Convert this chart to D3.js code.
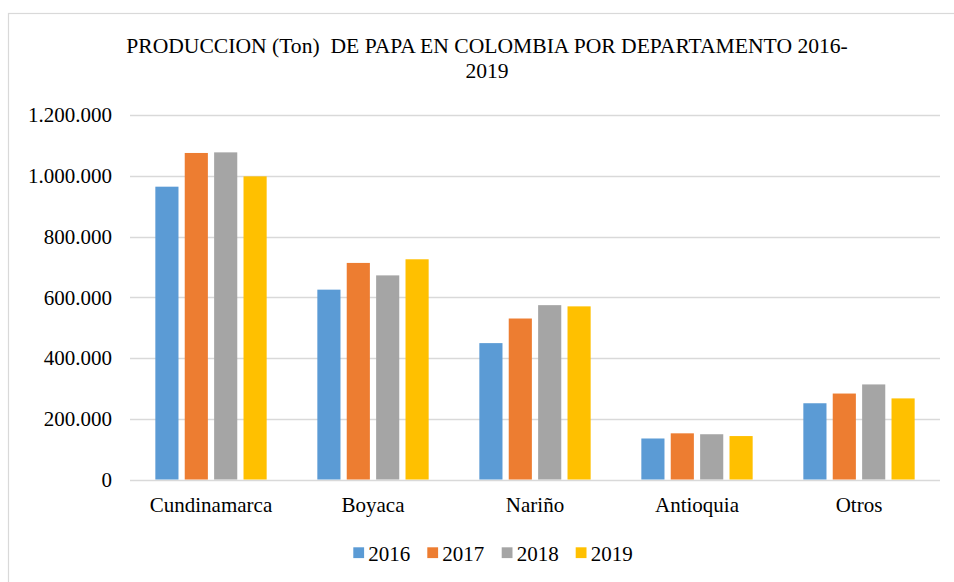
<!DOCTYPE html>
<html><head><meta charset="utf-8">
<script src="https://cdn.jsdelivr.net/npm/d3@7/dist/d3.min.js"></script>
<style>
html,body{margin:0;padding:0;background:#fff;}
svg{display:block;}
text{font-family:"Liberation Serif","Times New Roman",serif;fill:#000;}
</style></head>
<body>
<svg id="chart" width="954" height="582"></svg>
<script>
const titleLines = ["PRODUCCION (Ton)  DE PAPA EN COLOMBIA POR DEPARTAMENTO 2016-", "2019"];
const categories = ["Cundinamarca", "Boyaca", "Nariño", "Antioquia", "Otros"];
const years = ["2016", "2017", "2018", "2019"];
const v2016 = [964000, 625000, 449000, 135000, 251000];
const v2017 = [1075000, 713000, 530000, 152000, 283000];
const v2018 = [1077000, 672000, 574000, 149000, 313000];
const v2019 = [998000, 725000, 570000, 143000, 267000];
const yTicks = [0, 200000, 400000, 600000, 800000, 1000000, 1200000];
const colors = ["#5B9BD5", "#ED7D31", "#A5A5A5", "#FFC000"];

const series = [v2016, v2017, v2018, v2019];
const svg = d3.select("#chart");

// chart border
svg.append("rect").attr("x", 8.5).attr("y", 13.5).attr("width", 960).attr("height", 600)
  .attr("fill", "#fff").attr("stroke", "#D9D9D9").attr("stroke-width", 1.2);

const pLeft = 130, pRight = 940, pTop = 115, pBottom = 479.5;
const FS = 21;

const y = d3.scaleLinear().domain([0, 1200000]).range([pBottom, pTop]);
const x0 = d3.scaleBand().domain(categories).range([pLeft, pRight]).padding(0);
const bw = x0.bandwidth();
const w = bw / 7.0;
const groupW = 4 * w + 3 * 0.27 * w;
const x1 = d3.scaleBand().domain(years).range([0, groupW]).paddingInner(0.27 / 1.27).paddingOuter(0);

const fmt = v => d3.format(",")(v).replace(/,/g, ".");

// gridlines
svg.append("g").selectAll("line").data(yTicks).join("line")
  .attr("x1", pLeft).attr("x2", pRight)
  .attr("y1", d => Math.round(y(d)) + 0.5).attr("y2", d => Math.round(y(d)) + 0.5)
  .attr("stroke", "#D9D9D9").attr("stroke-width", 1.5);

// y axis labels
const yAxis = d3.axisLeft(y).tickValues(yTicks).tickFormat(fmt).tickSize(0).tickPadding(0);
const ya = svg.append("g").attr("transform", `translate(112,0)`).call(yAxis);
ya.select(".domain").remove();
ya.attr("font-family", null).attr("font-size", null);
ya.selectAll("text").attr("font-size", FS).attr("fill", "#000").attr("dy", "0.33em");

// bars
const groups = svg.append("g").selectAll("g").data(categories).join("g")
  .attr("transform", c => `translate(${x0(c) + (bw - groupW) / 2},0)`);
groups.selectAll("rect").data((c, i) => years.map((yr, j) => ({yr, v: series[j][i], j})))
  .join("rect")
  .attr("x", d => x1(d.yr)).attr("width", x1.bandwidth())
  .attr("y", d => y(d.v)).attr("height", d => pBottom - y(d.v))
  .attr("fill", d => colors[d.j]);

// x axis labels
const xAxis = d3.axisBottom(x0).tickSize(0).tickPadding(0);
const xa = svg.append("g").attr("transform", `translate(0,511.5)`).call(xAxis);
xa.select(".domain").remove();
xa.attr("font-family", null).attr("font-size", null);
xa.selectAll("text").attr("font-size", FS).attr("fill", "#000").attr("y", 0).attr("dy", 0);

// title
svg.append("g").selectAll("text").data(titleLines).join("text")
  .attr("x", 487).attr("y", (d, i) => 53.3 + i * 25)
  .attr("text-anchor", "middle").attr("font-size", 21.6)
  .style("white-space", "pre")
  .text(d => d);

// legend
const legX = [353.3, 427.3, 501.7, 575.7];
const leg = svg.append("g").selectAll("g").data(years).join("g")
  .attr("transform", (d, i) => `translate(${legX[i]},547.3)`);
leg.append("rect").attr("width", 10.8).attr("height", 10.8).attr("fill", (d, i) => colors[i]);
leg.append("text").attr("x", 15).attr("y", 13.7).attr("font-size", FS).text(d => d);
</script>
</body></html>
